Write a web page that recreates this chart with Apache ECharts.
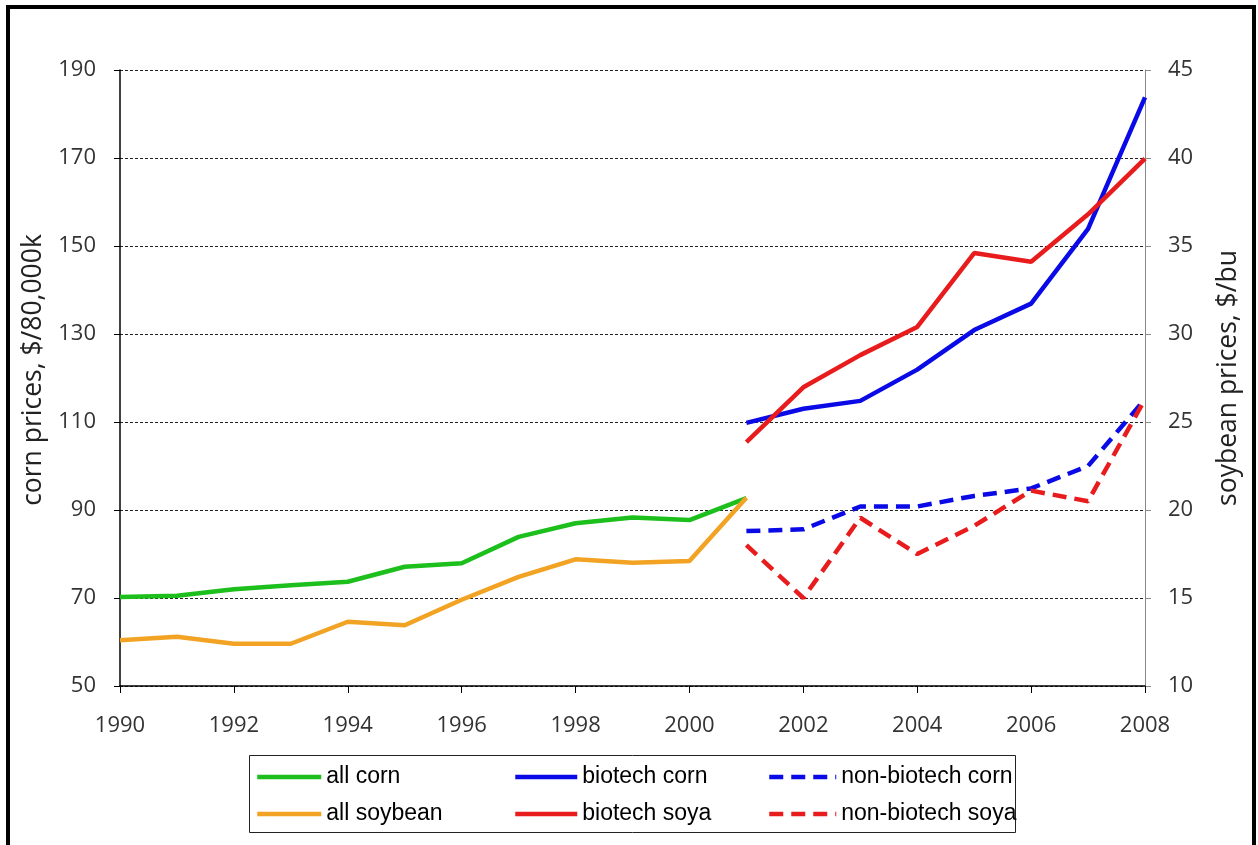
<!DOCTYPE html>
<html>
<head>
<meta charset="utf-8">
<script src="https://cdn.jsdelivr.net/npm/echarts@6/dist/echarts.min.js"></script>
<style>
html,body{margin:0;padding:0;background:#fff;}
#chart{width:1258px;height:845px;}
</style>
</head>
<body>
<div id="chart"></div>
<script>
const years = ['1990','1991','1992','1993','1994','1995','1996','1997','1998','1999','2000','2001','2002','2003','2004','2005','2006','2007','2008'];
const allCorn = [70.2,70.5,72.0,72.9,73.7,77.1,77.9,83.9,87.0,88.3,87.7,92.7,null,null,null,null,null,null,null];
const allSoybean = [12.6,12.8,12.4,12.4,13.65,13.45,14.9,16.2,17.2,17.0,17.1,20.7,null,null,null,null,null,null,null];
const biotechCorn = [null,null,null,null,null,null,null,null,null,null,null,109.8,113.0,114.8,121.9,130.9,136.9,153.9,183.8];
const nonBiotechCorn = [null,null,null,null,null,null,null,null,null,null,null,85.2,85.6,90.8,90.8,93.2,94.9,100.0,115.2];
const biotechSoya = [null,null,null,null,null,null,null,null,null,null,null,23.86,26.97,28.8,30.4,34.6,34.1,36.8,39.96];
const nonBiotechSoya = [null,null,null,null,null,null,null,null,null,null,null,18.0,15.0,19.56,17.5,19.1,21.1,20.5,26.3];

const GREEN = '#1cbf1c', ORANGE = '#f2a324', BLUE = '#0a0ae6', RED = '#e81c1c';
const tickFont = {fontFamily:'Open Sans', fontSize:22, color:'#333'};
const legendText = {fontFamily:'Liberation Sans', fontSize:23, color:'#000', lineHeight:24};

function line(name, data, color, yIdx, dashed) {
  return {
    name, type:'line', data, yAxisIndex:yIdx, symbol:'none', showSymbol:false, connectNulls:false,
    lineStyle:{color, width:4.5, type: dashed ? [14,8] : 'solid', cap:'butt'},
    itemStyle:{color}, animation:false
  };
}
function legend(left, names, w) {
  return {
    orient:'vertical', left, top:765, padding:0, itemGap:13,
    itemWidth:w, itemHeight:14, data:names, textStyle:legendText,
    itemStyle:{opacity:0, borderWidth:0},
    lineStyle:{width:4.5},
    selectedMode:false
  };
}

const chart = echarts.init(document.getElementById('chart'), null, {renderer:'canvas'});
chart.setOption({
  backgroundColor:'#fff',
  animation:false,
  grid:{left:120, right:113, top:70, bottom:159, containLabel:false},
  xAxis:{
    type:'category', data:years, boundaryGap:false,
    axisLine:{lineStyle:{color:'#000', width:1.5}},
    axisTick:{show:true, interval:1, length:7, lineStyle:{color:'#000'}},
    axisLabel:{interval:1, margin:29, ...tickFont},
    splitLine:{show:false}
  },
  yAxis:[{
    type:'value', min:50, max:190, interval:20,
    name:'corn prices, $/80,000k', nameLocation:'middle', nameGap:70,
    nameTextStyle:{fontFamily:'Open Sans', fontSize:26.5, color:'#222', padding:[0,0,0,16]},
    axisLine:{show:true, lineStyle:{color:'#000', width:1.5}},
    axisTick:{show:true, length:6, lineStyle:{color:'#000'}},
    axisLabel:{margin:24, ...tickFont},
    splitLine:{show:true, lineStyle:{color:'#222', width:1, type:[3,2]}}
  },{
    type:'value', min:10, max:45, interval:5, position:'right',
    name:'soybean prices, $/bu', nameLocation:'middle', nameGap:70,
    nameTextStyle:{fontFamily:'Open Sans', fontSize:26.5, color:'#222'},
    axisLine:{show:true, lineStyle:{color:'#888', width:1}},
    axisTick:{show:true, length:6, lineStyle:{color:'#888'}},
    axisLabel:{margin:23, ...tickFont},
    splitLine:{show:false}
  }],
  legend:[
    legend(255, ['all corn','all soybean'], 64),
    legend(513, ['biotech corn','biotech soya'], 62),
    legend(767, ['non-biotech corn','non-biotech soya'], 67)
  ],
  graphic:[
    {type:'rect', silent:true, z:-1, shape:{x:8, y:7, width:1246, height:900}, style:{fill:'none', stroke:'#000', lineWidth:4}},
    {type:'rect', silent:true, shape:{x:249.5, y:755.5, width:766, height:77}, style:{fill:'none', stroke:'#222', lineWidth:1}}
  ],
  series:[
    line('all corn', allCorn, GREEN, 0, false),
    line('all soybean', allSoybean, ORANGE, 1, false),
    line('biotech corn', biotechCorn, BLUE, 0, false),
    line('biotech soya', biotechSoya, RED, 1, false),
    line('non-biotech corn', nonBiotechCorn, BLUE, 0, true),
    line('non-biotech soya', nonBiotechSoya, RED, 1, true)
  ]
});
</script>
</body>
</html>
